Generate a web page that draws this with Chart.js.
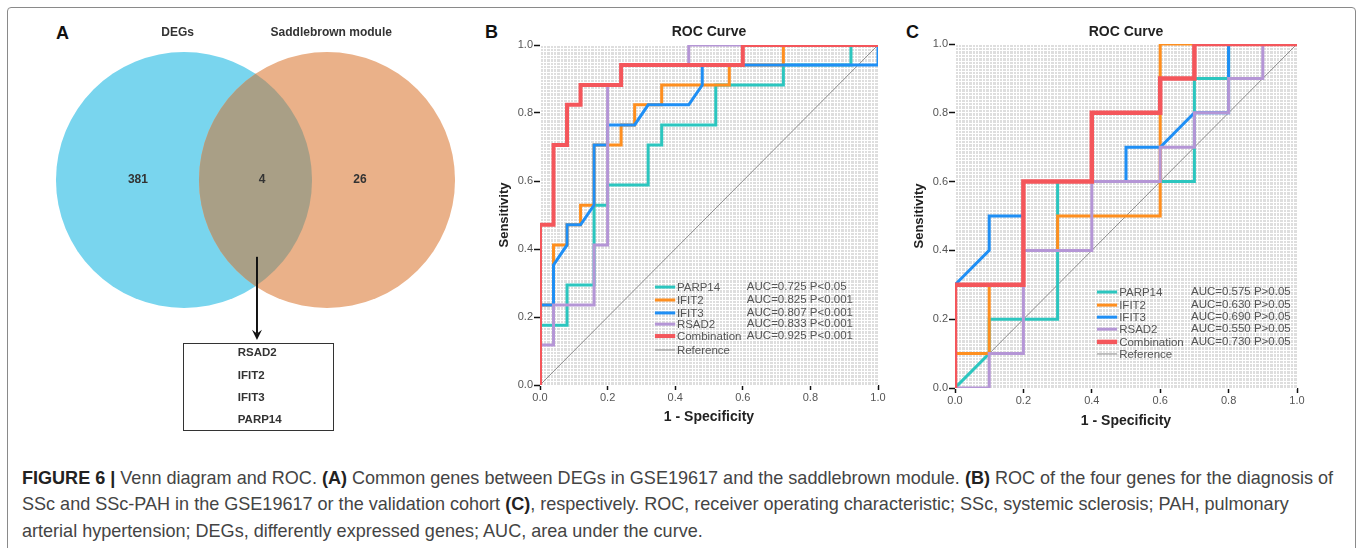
<!DOCTYPE html>
<html>
<head>
<meta charset="utf-8">
<script src="https://cdn.jsdelivr.net/npm/chart.js@4.4.0/dist/chart.umd.min.js"></script>
<style>
  body { margin: 0; width: 1357px; height: 548px; background: #fff; overflow: hidden; position: relative; font-family: "Liberation Sans", Arial, sans-serif; }
  #frame { position: absolute; left: 7px; top: 7px; width: 1347px; height: 600px; border: 1px solid #8a8a8a; border-radius: 4px; }
  .pl { position: absolute; font-weight: bold; font-size: 18px; color: #111; line-height: 20px; }
  canvas { position: absolute; }
  .cap { position: absolute; left: 22px; white-space: nowrap; font-family: "Liberation Sans", Arial, sans-serif; font-size: 18.5px; color: #444; line-height: 20px; transform-origin: 0 50%; }
  .cap b { color: #222; }
</style>
</head>
<body>
<div id="frame"></div>
<div class="pl" style="left:56px;top:23px">A</div>
<div class="pl" style="left:485px;top:22px">B</div>
<div class="pl" style="left:906px;top:22px">C</div>
<canvas id="venn" width="450" height="430" style="left:20px;top:10px"></canvas>
<canvas id="rocB" width="410" height="430" style="left:480px;top:10px"></canvas>
<canvas id="rocC" width="410" height="432" style="left:900px;top:10px"></canvas>
<div class="cap" id="cap1" style="top:468px"><b>FIGURE 6 |</b> Venn diagram and ROC. <b>(A)</b> Common genes between DEGs in GSE19617 and the saddlebrown module. <b>(B)</b> ROC of the four genes for the diagnosis of</div>
<div class="cap" style="top:494px">SSc and SSc-PAH in the GSE19617 or the validation cohort <b>(C)</b>, respectively. ROC, receiver operating characteristic; SSc, systemic sclerosis; PAH, pulmonary</div>
<div class="cap" style="top:521px">arterial hypertension; DEGs, differently expressed genes; AUC, area under the curve.</div>
<script>
// ---- Venn data
const vennSets = ['DEGs', 'Saddlebrown module'];
const vennOnly = [381, 26];
const vennShared = 4;
const sharedGenes = ['RSAD2', 'IFIT2', 'IFIT3', 'PARP14'];

// ---- ROC data (1 - specificity, sensitivity)
const rocNames = ['PARP14', 'IFIT2', 'IFIT3', 'RSAD2', 'Combination'];
const aucB = ['AUC=0.725 P<0.05', 'AUC=0.825 P<0.001', 'AUC=0.807 P<0.001', 'AUC=0.833 P<0.001', 'AUC=0.925 P<0.001'];
const aucC = ['AUC=0.575 P>0.05', 'AUC=0.630 P>0.05', 'AUC=0.690 P>0.05', 'AUC=0.550 P>0.05', 'AUC=0.730 P>0.05'];
const refFpr = [0, 1];
const refTpr = [0, 1];

const bParpFpr = [0, 0, 0.08, 0.08, 0.16, 0.16, 0.2, 0.2, 0.32, 0.32, 0.36, 0.36, 0.52, 0.52, 0.72, 0.72, 0.92, 0.92, 1];
const bParpTpr = [0, 0.176, 0.176, 0.294, 0.294, 0.529, 0.529, 0.588, 0.588, 0.706, 0.706, 0.765, 0.765, 0.882, 0.882, 0.941, 0.941, 1, 1];
const bIfit2Fpr = [0, 0, 0.04, 0.04, 0.08, 0.08, 0.12, 0.12, 0.16, 0.16, 0.24, 0.24, 0.28, 0.28, 0.36, 0.36, 0.56, 0.56, 0.72, 0.72, 1];
const bIfit2Tpr = [0, 0.235, 0.235, 0.412, 0.412, 0.471, 0.471, 0.529, 0.529, 0.706, 0.706, 0.765, 0.765, 0.824, 0.824, 0.882, 0.882, 0.941, 0.941, 1, 1];
const bIfit3Fpr = [0, 0, 0.04, 0.04, 0.08, 0.08, 0.12, 0.16, 0.16, 0.2, 0.2, 0.28, 0.32, 0.44, 0.48, 0.48, 1, 1];
const bIfit3Tpr = [0, 0.235, 0.235, 0.353, 0.412, 0.471, 0.471, 0.529, 0.706, 0.706, 0.765, 0.765, 0.824, 0.824, 0.882, 0.941, 0.941, 1];
const bRsad2Fpr = [0, 0, 0.04, 0.04, 0.16, 0.16, 0.2, 0.2, 0.24, 0.24, 0.44, 0.44, 1];
const bRsad2Tpr = [0, 0.118, 0.118, 0.235, 0.235, 0.412, 0.412, 0.882, 0.882, 0.941, 0.941, 1, 1];
const bCombFpr = [0, 0, 0.04, 0.04, 0.08, 0.08, 0.12, 0.12, 0.24, 0.24, 0.6, 0.6, 1];
const bCombTpr = [0, 0.471, 0.471, 0.706, 0.706, 0.824, 0.824, 0.882, 0.882, 0.941, 0.941, 1, 1];

const cParpFpr = [0, 0.1, 0.1, 0.3, 0.3, 0.7, 0.7, 0.8, 0.8, 1];
const cParpTpr = [0, 0.1, 0.2, 0.2, 0.6, 0.6, 0.9, 0.9, 1, 1];
const cIfit2Fpr = [0, 0, 0.1, 0.1, 0.2, 0.2, 0.3, 0.3, 0.6, 0.6, 1];
const cIfit2Tpr = [0, 0.1, 0.1, 0.3, 0.3, 0.4, 0.4, 0.5, 0.5, 1, 1];
const cIfit3Fpr = [0, 0, 0.1, 0.1, 0.2, 0.2, 0.5, 0.5, 0.6, 0.7, 0.8, 0.8, 1];
const cIfit3Tpr = [0, 0.3, 0.4, 0.5, 0.5, 0.6, 0.6, 0.7, 0.7, 0.8, 0.8, 1, 1];
const cRsad2Fpr = [0, 0.1, 0.1, 0.2, 0.2, 0.4, 0.4, 0.6, 0.6, 0.7, 0.7, 0.8, 0.8, 0.9, 0.9, 1];
const cRsad2Tpr = [0, 0, 0.1, 0.1, 0.4, 0.4, 0.6, 0.6, 0.7, 0.7, 0.8, 0.8, 0.9, 0.9, 1, 1];
const cCombFpr = [0, 0, 0.2, 0.2, 0.4, 0.4, 0.6, 0.6, 0.7, 0.7, 1];
const cCombTpr = [0, 0.3, 0.3, 0.6, 0.6, 0.8, 0.8, 0.9, 0.9, 1, 1];

const colors = ['#2cc6bf', '#ff8f1f', '#1f8ff5', '#b596d6', '#f4565b'];
const refColor = '#8e8e8e';
const FONT = '"Liberation Sans", Arial, sans-serif';

const pts = (xs, ys) => xs.map((x, i) => ({ x: x, y: ys[i] }));

// caption: the original face is condensed, squeeze lines to the same width
(function fitCaption() {
  const first = document.getElementById('cap1');
  const k = 1311 / first.getBoundingClientRect().width;
  document.querySelectorAll('.cap').forEach(el => { el.style.transform = 'scaleX(' + k + ')'; });
})();

// ---------------- Venn (panel A)
const vennPlugin = {
  id: 'vennExtra',
  afterDatasetsDraw(chart) {
    const ctx = chart.ctx, sx = chart.scales.x, sy = chart.scales.y;
    const px = v => sx.getPixelForValue(v), py = v => sy.getPixelForValue(v);
    const r = px(1) - px(0);
    const c = chart.data.datasets[0].data;
    // overlap lens
    ctx.save();
    ctx.beginPath(); ctx.arc(px(c[0].x), py(c[0].y), r, 0, Math.PI * 2); ctx.clip();
    ctx.beginPath(); ctx.arc(px(c[1].x), py(c[1].y), r, 0, Math.PI * 2);
    ctx.fillStyle = '#a99f86'; ctx.fill();
    ctx.restore();

    ctx.save();
    ctx.textAlign = 'center'; ctx.textBaseline = 'middle';
    ctx.fillStyle = '#333';
    ctx.font = 'bold 12px ' + FONT;
    ctx.fillText(vennSets[0], px(-0.05), py(-1.15));
    ctx.fillText(vennSets[1], px(1.15), py(-1.15));
    ctx.fillText(String(vennOnly[0]), px(-0.36), py(0));
    ctx.fillText(String(vennShared), px(0.61), py(0));
    ctx.fillText(String(vennOnly[1]), px(1.375), py(0));

    // arrow to the gene box
    const ax = px(0.57);
    ctx.strokeStyle = '#111'; ctx.lineWidth = 2;
    ctx.beginPath(); ctx.moveTo(ax, py(0.6)); ctx.lineTo(ax, py(1.2)); ctx.stroke();
    ctx.fillStyle = '#111';
    ctx.beginPath();
    ctx.moveTo(ax, py(1.25)); ctx.lineTo(ax - 5, py(1.17)); ctx.lineTo(ax, py(1.2)); ctx.lineTo(ax + 5, py(1.17));
    ctx.closePath(); ctx.fill();

    // gene box
    ctx.strokeStyle = '#333'; ctx.lineWidth = 1;
    ctx.strokeRect(Math.round(px(-0.008)) + 0.5, Math.round(py(1.273)) + 0.5, Math.round(px(1.164) - px(-0.008)), Math.round(py(1.953) - py(1.273)));
    ctx.textAlign = 'left'; ctx.fillStyle = '#333';
    ctx.font = 'bold 11.5px ' + FONT;
    const gy = [1.35, 1.53, 1.70, 1.875];
    sharedGenes.forEach((g, i) => ctx.fillText(g, px(0.42), py(gy[i])));
    ctx.restore();
  }
};

new Chart(document.getElementById('venn'), {
  type: 'scatter',
  data: {
    datasets: [{
      data: [{ x: 0, y: 0 }, { x: 1.117, y: 0 }],
      backgroundColor: ['#79d5ee', '#eab189'],
      borderWidth: 0,
      pointRadius: ctx => {
        const sx = ctx.chart.scales.x;
        return sx ? sx.getPixelForValue(1) - sx.getPixelForValue(0) : 0;
      },
      pointHoverRadius: ctx => {
        const sx = ctx.chart.scales.x;
        return sx ? sx.getPixelForValue(1) - sx.getPixelForValue(0) : 0;
      }
    }]
  },
  options: {
    responsive: false,
    animation: false,
    events: [],
    layout: { padding: 0 },
    plugins: { legend: { display: false }, tooltip: { enabled: false } },
    scales: {
      x: { display: false, min: -1.281, max: 2.234 },
      y: { display: false, min: -1.328, max: 2.031, reverse: true }
    }
  },
  plugins: [vennPlugin]
});

// ---------------- ROC panels (B, C)
const rocPlugin = {
  id: 'rocText',
  beforeDraw(chart) {
    const { ctx, chartArea: a } = chart;
    ctx.save();
    ctx.fillStyle = '#dedede';
    ctx.fillRect(a.left, a.top, a.right - a.left, a.bottom - a.top);
    ctx.restore();
  },
  afterDatasetsDraw(chart, args, opts) {
    const { ctx, chartArea: a } = chart;
    const sx = chart.scales.x, sy = chart.scales.y;
    ctx.save();
    // title
    ctx.fillStyle = '#222';
    ctx.font = 'bold 14px ' + FONT;
    ctx.textAlign = 'center'; ctx.textBaseline = 'middle';
    ctx.fillText('ROC Curve', (a.left + a.right) / 2, opts.titleY);
    // legend
    ctx.font = '11.5px ' + FONT;
    ctx.textAlign = 'left';
    const ds = chart.data.datasets;
    opts.rows.forEach((ry, i) => {
      const d = ds.find(s => s.label === opts.order[i]);
      const y = sy.getPixelForValue(ry);
      ctx.strokeStyle = d.borderColor;
      ctx.lineWidth = d.borderWidth;
      ctx.beginPath();
      ctx.moveTo(sx.getPixelForValue(opts.lineX[0]), y);
      ctx.lineTo(sx.getPixelForValue(opts.lineX[1]), y);
      ctx.stroke();
      ctx.fillStyle = '#555';
      ctx.fillText(d.label, sx.getPixelForValue(opts.textX), y + 1);
      if (opts.auc[i]) ctx.fillText(opts.auc[i], sx.getPixelForValue(opts.aucX), y);
    });
    ctx.restore();
  }
};

function rocChart(id, series, auc, cfg) {
  const datasets = [];
  // drawing order: first dataset ends up on top
  const stack = [4, 3, 2, 1, 0];
  stack.forEach(i => {
    datasets.push({
      label: rocNames[i],
      data: pts(series[i][0], series[i][1]),
      borderColor: colors[i],
      borderWidth: i === 4 ? cfg.combWidth : 3,
      pointRadius: 0,
      tension: 0,
      fill: false,
      clip: 0
    });
  });
  datasets.push({
    label: 'Reference',
    data: pts(refFpr, refTpr),
    borderColor: refColor,
    borderWidth: 1,
    pointRadius: 0,
    fill: false,
    clip: 0
  });
  const major = v => Math.abs(v * 5 - Math.round(v * 5)) < 1e-6;
  return new Chart(document.getElementById(id), {
    type: 'line',
    data: { datasets: datasets },
    options: {
      responsive: false,
      animation: false,
      events: [],
      layout: { padding: cfg.padding },
      plugins: {
        legend: { display: false },
        tooltip: { enabled: false },
        rocText: {
          titleY: 22,
          rows: cfg.rows,
          order: rocNames.concat(['Reference']),
          auc: auc,
          lineX: cfg.lineX,
          textX: cfg.textX,
          aucX: cfg.aucX
        }
      },
      scales: {
        x: {
          type: 'linear', min: 0, max: 1,
          afterFit: s => { s.height = cfg.xHeight; },
          border: { display: false },
          grid: {
            color: '#ffffff', lineWidth: 1, tickLength: 5, tickWidth: 1.5,
            tickColor: c => major(c.tick.value) ? '#111' : 'rgba(0,0,0,0)'
          },
          ticks: {
            stepSize: 0.01, autoSkip: false, maxRotation: 0, padding: 1,
            color: '#555', font: { family: FONT, size: 11 },
            callback: v => major(v) ? v.toFixed(1) : ''
          },
          title: {
            display: true, text: '1 - Specificity', color: '#222',
            font: { family: FONT, size: 14, weight: 'bold' },
            padding: { top: 0, bottom: cfg.xTitlePad }
          }
        },
        y: {
          type: 'linear', min: 0, max: 1,
          afterFit: s => { s.width = cfg.yWidth; },
          border: { display: false },
          grid: {
            color: '#ffffff', lineWidth: 1, tickLength: 6, tickWidth: 1.5,
            tickColor: c => major(c.tick.value) ? '#111' : 'rgba(0,0,0,0)'
          },
          ticks: {
            stepSize: 0.01, autoSkip: false, padding: 1,
            color: '#555', font: { family: FONT, size: 11 },
            callback: v => major(v) ? v.toFixed(1) : ''
          },
          title: {
            display: true, text: 'Sensitivity', color: '#222',
            font: { family: FONT, size: 13, weight: 'bold' },
            padding: { top: cfg.yTitlePad, bottom: 0 }
          }
        }
      }
    },
    plugins: [rocPlugin]
  });
}

rocChart('rocB',
  [[bParpFpr, bParpTpr], [bIfit2Fpr, bIfit2Tpr], [bIfit3Fpr, bIfit3Tpr], [bRsad2Fpr, bRsad2Tpr], [bCombFpr, bCombTpr]],
  aucB,
  {
    padding: { left: 10, right: 12, top: 35, bottom: 10 },
    yWidth: 50, xHeight: 45, yTitlePad: 7, xTitlePad: 4, combWidth: 4,
    rows: [0.288, 0.25, 0.212, 0.179, 0.144, 0.103],
    lineX: [0.34, 0.40], textX: 0.405, aucX: 0.612
  });

rocChart('rocC',
  [[cParpFpr, cParpTpr], [cIfit2Fpr, cIfit2Tpr], [cIfit3Fpr, cIfit3Tpr], [cRsad2Fpr, cRsad2Tpr], [cCombFpr, cCombTpr]],
  aucC,
  {
    padding: { left: 10, right: 13, top: 34, bottom: 10 },
    yWidth: 45, xHeight: 44, yTitlePad: 2, xTitlePad: 2, combWidth: 4.5,
    rows: [0.279, 0.241, 0.206, 0.171, 0.134, 0.099],
    lineX: [0.415, 0.474], textX: 0.48, aucX: 0.69
  });
</script>
</body>
</html>
